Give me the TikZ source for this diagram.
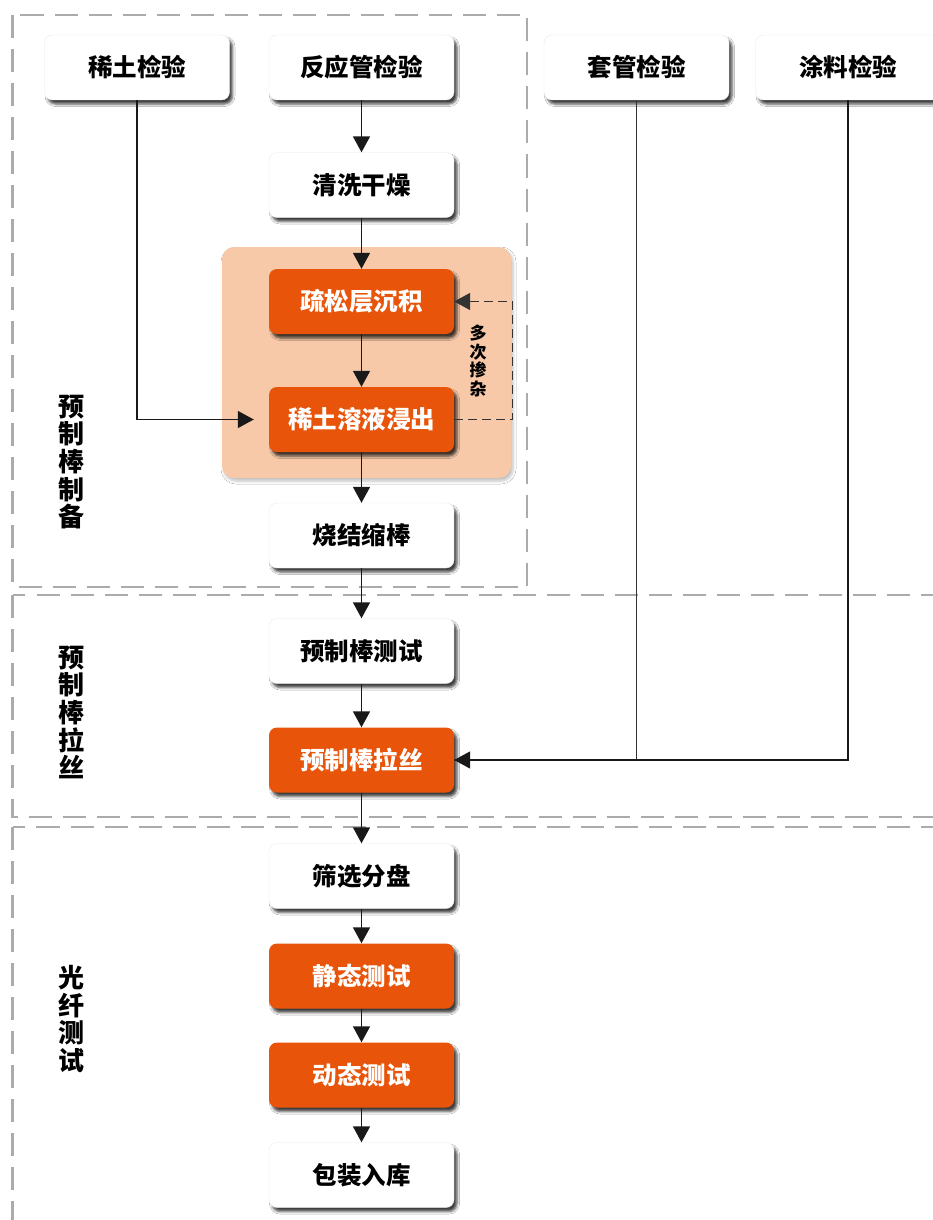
\documentclass[tikz,border=0pt]{standalone}
\usepackage{fontspec}
\setmainfont{Noto Sans CJK SC}
\usetikzlibrary{arrows.meta,shadows,shadows.blur,calc}
\definecolor{hot}{HTML}{E8550A}
\definecolor{peach}{HTML}{F8C9A8}
\definecolor{frame}{HTML}{ABABAB}
\tikzset{
  boxbase/.style={rounded corners=8pt, minimum width=185pt, minimum height=65pt, inner sep=0pt,
    font=\fontsize{24.5}{26}\selectfont\bfseries,
    blur shadow={shadow xshift=3pt, shadow yshift=-4pt, shadow blur radius=2.5pt, shadow opacity=75}},
  plainbox/.style={boxbase, fill=white, draw=black!8, text=black},
  hotbox/.style={boxbase, fill=hot, text=white},
  stagebox/.style={draw=frame, line width=2.5pt, dash pattern=on 23pt off 11pt},
  flow/.style={draw=black!90, line width=1.7pt, -{Triangle[length=16pt,width=17pt]}},
  feed/.style={draw=black!80, line width=1.6pt, dash pattern=on 9pt off 5pt, -{Triangle[length=16pt,width=17pt]}},
  line/.style={draw=black!80, line width=1.7pt},
  stagelabel/.style={align=center, inner sep=0pt, font=\fontsize{26}{27.7}\selectfont\bfseries},
}
\begin{document}
\begin{tikzpicture}[x=1pt,y=-1pt]
\useasboundingbox (0,0) rectangle (933,1220);
\clip (0,0) rectangle (933,1220);
\fill[white] (0,0) rectangle (933,1220);
% stage frames
\draw[stagebox] (12.5,15) rectangle (527,587);
\draw[stagebox] (12.5,595) rectangle (970,817);
\draw[stagebox] (12.5,827) rectangle (970,1270);
% stage labels
\node[stagelabel] (L1) at (71,462) {预\\制\\棒\\制\\备};
\node[stagelabel] (L2) at (71,712.5) {预\\制\\棒\\拉\\丝};
\node[stagelabel] (L3) at (71,1019) {光\\纤\\测\\试};
% doping background
\node[rounded corners=12pt, fill=peach, minimum width=289pt, minimum height=231pt, inner sep=0pt,
  blur shadow={shadow xshift=2pt, shadow yshift=-3pt, shadow blur radius=3pt, shadow opacity=25}] (bg) at (366.5,362.5) {};
% nodes
\node[plainbox] (n1) at (137,67.5) {稀土检验};
\node[plainbox] (n2) at (361.5,67.5) {反应管检验};
\node[plainbox] (n3) at (636.5,67.5) {套管检验};
\node[plainbox] (n4) at (848,67.5) {涂料检验};
\node[plainbox] (n5) at (361.5,185) {清洗干燥};
\node[hotbox] (n6) at (361.5,301.5) {疏松层沉积};
\node[hotbox] (n7) at (361.5,419.5) {稀土溶液浸出};
\node[plainbox] (n8) at (361.5,535.5) {烧结缩棒};
\node[plainbox] (n9) at (361.5,651) {预制棒测试};
\node[hotbox] (n10) at (361.5,760) {预制棒拉丝};
\node[plainbox] (n11) at (361.5,876) {筛选分盘};
\node[hotbox] (n12) at (361.5,976) {静态测试};
\node[hotbox] (n13) at (361.5,1075) {动态测试};
\node[plainbox] (n14) at (361.5,1175) {包装入库};
% feedback label
\node[align=center, inner sep=0pt, font=\fontsize{17}{18.5}\selectfont\bfseries] (fbl) at (478,361) {多\\次\\掺\\杂};
% connectors
\draw[flow] (n2) -- (n5);
\draw[flow] (n5) -- (n6);
\draw[flow] (n6) -- (n7);
\draw[flow] (n7) -- (n8);
\draw[flow] (n8) -- (n9);
\draw[flow] (n9) -- (n10);
\draw[flow] (n10) -- (n11);
\draw[flow] (n11) -- (n12);
\draw[flow] (n12) -- (n13);
\draw[flow] (n13) -- (n14);
\draw[flow, shorten >=15pt] (n1.south) |- (n7.west);
\coordinate (fb) at (512.5,0);
\draw[feed] (n7.east) -- (n7.east -| fb) |- (n6.east);
\draw[line] (n3.south) |- (n10.east);
\draw[flow] (n4.south) |- (n10.east);
\end{tikzpicture}
\end{document}
